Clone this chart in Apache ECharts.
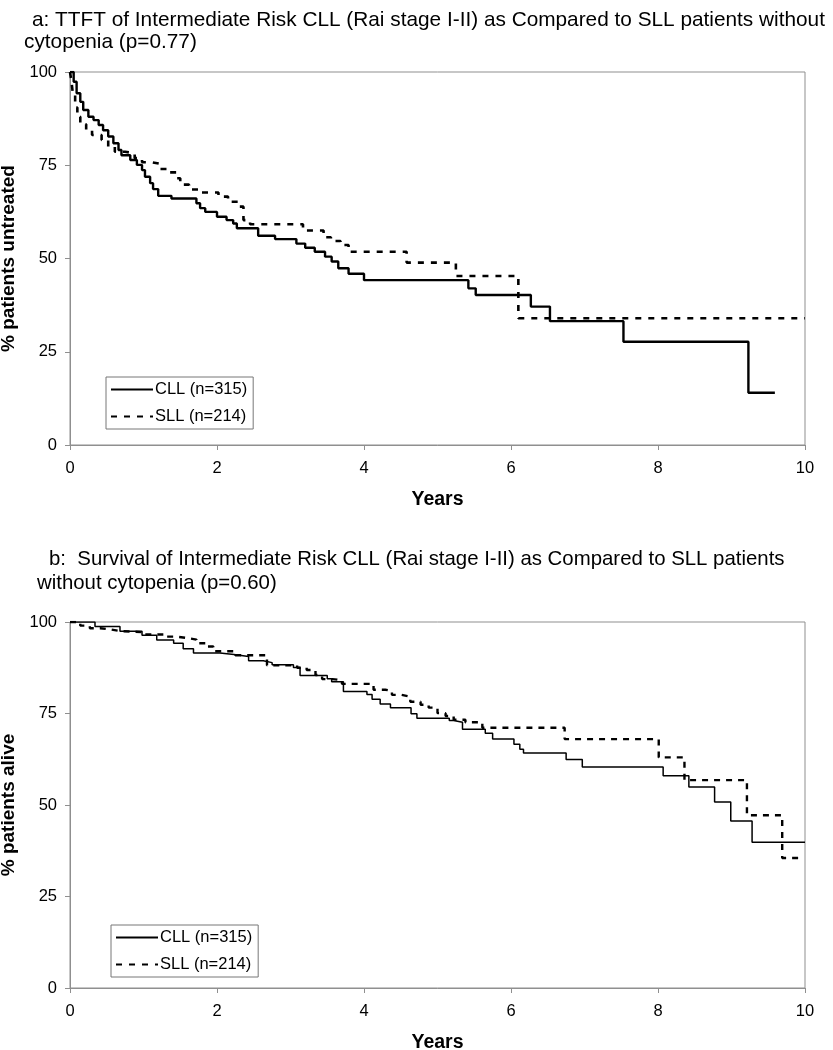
<!DOCTYPE html>
<html>
<head>
<meta charset="utf-8">
<script src="https://cdn.jsdelivr.net/npm/echarts@6/dist/echarts.min.js"></script>
<style>
  html, body { margin: 0; padding: 0; background: #fff; }
  #chart { width: 833px; height: 1050px; }
</style>
</head>
<body>
<div id="chart"></div>
<script>
// a: time to first treatment (years, % untreated)
const aCllT = [0, 0.05, 0.09, 0.14, 0.18, 0.25, 0.32, 0.39, 0.45, 0.52, 0.59, 0.66, 0.70, 0.82, 0.91, 0.98, 1.02, 1.09, 1.13, 1.20, 1.38, 1.72, 1.77, 1.84, 2.00, 2.13, 2.22, 2.27, 2.56, 2.79, 3.08, 3.20, 3.33, 3.47, 3.56, 3.65, 3.79, 4.00, 5.42, 5.52, 6.27, 6.53, 7.53, 9.23, 9.59]
const aCllV = [100, 97.4, 94.3, 92.0, 89.8, 88.0, 87.1, 85.8, 84.4, 82.7, 80.9, 79.1, 77.7, 76.4, 75.1, 73.7, 71.9, 70.2, 68.6, 66.8, 66.1, 64.8, 63.5, 62.5, 61.2, 60.3, 59.4, 58.1, 56.1, 55.2, 54.0, 52.9, 51.8, 50.5, 49.2, 47.4, 45.9, 44.2, 42.0, 40.2, 37.1, 33.2, 27.7, 14.0, 14.0]
const aSllT = [0, 0.02, 0.04, 0.07, 0.10, 0.14, 0.22, 0.30, 0.43, 0.52, 0.61, 0.75, 0.88, 0.98, 1.11, 1.22, 1.34, 1.45, 1.50, 1.62, 1.75, 2.02, 2.15, 2.29, 2.36, 2.45, 3.17, 3.45, 3.55, 3.68, 3.79, 4.58, 5.25, 6.10, 10]
const aSllV = [100, 97.5, 94.0, 90.5, 88.0, 86.0, 84.5, 83.1, 81.8, 80.0, 78.6, 78.2, 76.9, 75.8, 75.4, 74.0, 73.1, 71.5, 69.8, 68.5, 67.7, 66.6, 65.2, 63.9, 60.3, 59.2, 57.5, 55.7, 54.7, 53.6, 51.8, 48.9, 45.3, 34.0, 34.0]

// b: survival (years, % alive)
const bCllT = [0, 0.34, 0.68, 0.98, 1.18, 1.41, 1.54, 1.68, 2.04, 2.23, 2.43, 2.63, 2.75, 3.04, 3.13, 3.50, 3.56, 3.72, 4.04, 4.11, 4.22, 4.36, 4.64, 4.72, 5.16, 5.22, 5.34, 5.65, 5.75, 6.04, 6.12, 6.17, 6.75, 6.97, 8.07, 8.42, 8.77, 8.99, 9.28, 10]
const bCllV = [100, 98.8, 97.5, 96.4, 95.1, 94.2, 92.7, 91.5, 91.1, 90.6, 89.4, 88.9, 88.3, 87.6, 85.4, 84.5, 83.7, 81.0, 80.2, 78.9, 77.6, 76.6, 74.9, 73.7, 73.1, 72.6, 70.7, 69.6, 68.0, 66.6, 65.2, 64.2, 62.4, 60.4, 58.0, 54.9, 50.8, 45.6, 39.8, 39.8]
const bSllT = [0, 0.14, 0.27, 0.41, 0.54, 0.69, 1.02, 1.32, 1.45, 1.61, 1.72, 1.86, 1.95, 2.25, 2.68, 3.09, 3.22, 3.34, 3.43, 3.57, 3.70, 4.13, 4.29, 4.38, 4.51, 4.63, 4.77, 4.88, 5.00, 5.11, 5.22, 5.38, 5.61, 6.73, 8.01, 8.36, 9.21, 9.69, 9.95]
const bSllV = [100, 99.0, 98.3, 98.0, 97.5, 97.2, 96.6, 96.0, 95.6, 95.2, 94.2, 93.3, 92.0, 90.9, 88.2, 87.5, 86.9, 85.5, 84.4, 84.1, 83.1, 81.5, 81.2, 80.1, 79.6, 78.2, 77.4, 76.6, 75.1, 74.3, 73.3, 72.6, 71.1, 68.0, 63.0, 56.8, 47.2, 35.5, 35.5]

const seriesNames = ['CLL (n=315)', 'SLL (n=214)']
const yNames = ['% patients untreated', '% patients alive']
const xName = 'Years'

const FONT = '"Liberation Sans", Arial, sans-serif'
const GRAY = '#8f8f8f'

const pairs = (t, v) => t.map((x, i) => [x, v[i]])

const chartDom = document.getElementById('chart')
const chart = echarts.init(chartDom, null, {renderer: 'canvas'})

const grids = [
  {left: 70, top: 72, width: 735, height: 373},
  {left: 70, top: 622, width: 735, height: 366},
]

function xAxis(i) {
  return {
    type: 'value',
    gridIndex: i,
    min: 0,
    max: 10,
    interval: 2,
    name: xName,
    nameLocation: 'middle',
    nameGap: 45,
    nameTextStyle: {fontFamily: FONT, fontSize: 19.5, fontWeight: 'bold', color: '#000'},
    axisLine: {lineStyle: {color: GRAY, width: 1}},
    axisTick: {show: true, length: 5, lineStyle: {color: GRAY}},
    axisLabel: {fontFamily: FONT, fontSize: 16.5, color: '#000', margin: 15},
    splitLine: {show: false},
  }
}

function yAxis(i) {
  return {
    type: 'value',
    gridIndex: i,
    min: 0,
    max: 100,
    interval: 25,
    name: yNames[i],
    nameLocation: 'middle',
    nameRotate: 90,
    nameGap: 48,
    nameTextStyle: {fontFamily: FONT, fontSize: 19, fontWeight: 'bold', color: '#000'},
    axisLine: {show: true, lineStyle: {color: GRAY, width: 1}},
    axisTick: {show: true, length: 5, lineStyle: {color: GRAY}},
    axisLabel: {fontFamily: FONT, fontSize: 16.5, color: '#000', margin: 13},
    splitLine: {show: false},
  }
}

function legend(left, top) {
  return {
    data: seriesNames,
    orient: 'vertical',
    left: left,
    top: top,
    padding: [4, 6, 4, 4],
    itemGap: 10,
    itemWidth: 42,
    itemHeight: 14,
    borderColor: '#777',
    borderWidth: 1,
    borderRadius: 0,
    itemStyle: {opacity: 0},
    textStyle: {fontFamily: FONT, fontSize: 16.5, color: '#000', padding: [0, 0, 0, -3]},
    selectedMode: false,
  }
}

const titleStyle = (size) => ({fontFamily: FONT, fontSize: size, fontWeight: 'normal', color: '#000'})

const option = {
  animation: false,
  backgroundColor: '#fff',
  title: [
    {text: 'a: TTFT of Intermediate Risk CLL (Rai stage I-II) as Compared to SLL patients without', left: 27, top: 5, textStyle: titleStyle(20.8)},
    {text: 'cytopenia (p=0.77)', left: 19, top: 27, textStyle: titleStyle(20.8)},
    {text: 'b:  Survival of Intermediate Risk CLL (Rai stage I-II) as Compared to SLL patients', left: 44, top: 544, textStyle: titleStyle(20.4)},
    {text: 'without cytopenia (p=0.60)', left: 32, top: 568, textStyle: titleStyle(20.4)},
  ],
  grid: grids.map(g => Object.assign({show: true, borderColor: GRAY, borderWidth: 1, outerBoundsMode: 'none'}, g)),
  xAxis: [xAxis(0), xAxis(1)],
  yAxis: [yAxis(0), yAxis(1)],
  legend: [legend(106, 377), legend(111, 925)],
  series: [
    {
      name: seriesNames[0], type: 'line', xAxisIndex: 0, yAxisIndex: 0, step: 'end', symbol: 'none',
      data: pairs(aCllT, aCllV),
      lineStyle: {color: '#000', width: 2.4, type: 'solid'}, itemStyle: {color: '#000'},
    },
    {
      name: seriesNames[1], type: 'line', xAxisIndex: 0, yAxisIndex: 0, step: 'end', symbol: 'none',
      data: pairs(aSllT, aSllV),
      lineStyle: {color: '#000', width: 2.6, type: [6, 7]}, itemStyle: {color: '#000'},
    },
    {
      name: seriesNames[0], type: 'line', xAxisIndex: 1, yAxisIndex: 1, step: 'end', symbol: 'none',
      data: pairs(bCllT, bCllV),
      lineStyle: {color: '#000', width: 1.5, type: 'solid'}, itemStyle: {color: '#000'},
    },
    {
      name: seriesNames[1], type: 'line', xAxisIndex: 1, yAxisIndex: 1, step: 'end', symbol: 'none',
      data: pairs(bSllT, bSllV),
      lineStyle: {color: '#000', width: 2.4, type: [6, 6]}, itemStyle: {color: '#000'},
    },
  ],
}

option && chart.setOption(option)
</script>
</body>
</html>
